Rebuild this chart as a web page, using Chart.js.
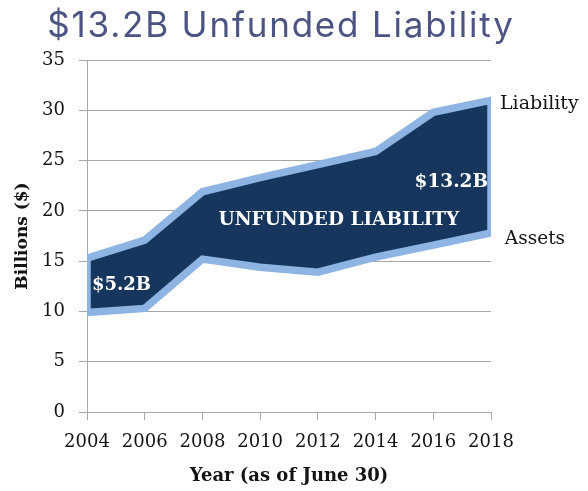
<!DOCTYPE html>
<html><head><meta charset="utf-8">
<script src="https://cdn.jsdelivr.net/npm/chart.js@4/dist/chart.umd.min.js"></script>
<style>html,body{margin:0;padding:0;background:#fff;}#wrap{width:588px;height:491px;}</style>
</head><body><div id="wrap"><canvas id="c" width="588" height="491"></canvas></div>
<script>
// ---- data ----
const years = [2004, 2006, 2008, 2010, 2012, 2014, 2016, 2018];
const liability = [15.3, 17.1, 21.9, 23.3, 24.6, 25.9, 29.8, 31.0];
const assets = [9.9, 10.3, 15.2, 14.4, 13.9, 15.4, 16.6, 17.8];
const yTickValues = [0, 5, 10, 15, 20, 25, 30, 35];
const chartTitle = '$13.2B Unfunded Liability';
const xTitle = 'Year (as of June 30)';
const yTitle = 'Billions ($)';
const seriesNames = ['Liability', 'Assets'];
const gapLabels = ['$5.2B', 'UNFUNDED LIABILITY', '$13.2B'];

// ---- styling / placement ----
const NAVY = '#17365d', LIGHT = '#8db4e2', GRID = '#a6a6a6', INK = '#141414';
const SERIF = '"DejaVu Serif", "Liberation Serif", serif';
const annotations = [
  {text: gapLabels[0], x: 2004.17, y: 12.6, align: 'left', font: 'bold 18px ' + SERIF, color: '#ffffff'},
  {text: gapLabels[1], x: 2012.73, y: 19.1, align: 'center', font: 'bold 18.5px ' + SERIF, color: '#ffffff'},
  {text: gapLabels[2], x: 2017.9, y: 22.9, align: 'right', font: 'bold 18.5px ' + SERIF, color: '#ffffff'},
  {text: seriesNames[0], x: 2018.31, y: 30.6, align: 'left', font: '19px ' + SERIF, color: INK},
  {text: seriesNames[1], x: 2018.48, y: 17.2, align: 'left', font: '18.5px ' + SERIF, color: INK}
];

const toXY = (xs, ys) => xs.map((v, i) => ({x: v, y: ys[i]}));
const liabPts = toXY(years, liability);
const assetPts = toXY(years, assets);
const outline = liabPts.concat(assetPts.slice().reverse(), [liabPts[0]]);

const textPlugin = {
  id: 'textPlugin',
  afterDatasetsDraw(chart) {
    const {ctx, scales: {x, y}} = chart;
    ctx.save();
    ctx.textBaseline = 'middle';
    for (const a of annotations) {
      ctx.font = a.font; ctx.fillStyle = a.color; ctx.textAlign = a.align;
      ctx.fillText(a.text, x.getPixelForValue(a.x), y.getPixelForValue(a.y));
    }
    ctx.font = '400 35px Inter, "Open Sans", sans-serif';
    ctx.fillStyle = '#4b5482';
    ctx.textAlign = 'center';
    ctx.textBaseline = 'alphabetic';
    if ('letterSpacing' in ctx) ctx.letterSpacing = '1.8px';
    ctx.fillText(chartTitle, 281, 37);
    ctx.restore();
  }
};

new Chart(document.getElementById('c'), {
  type: 'line',
  data: {
    datasets: [
      {label: 'outline', data: outline, borderColor: LIGHT, borderWidth: 7.5, fill: false,
       pointRadius: 0, tension: 0, borderJoinStyle: 'miter', order: 0},
      {label: seriesNames[0], data: liabPts, borderColor: 'rgba(0,0,0,0)', borderWidth: 0,
       backgroundColor: NAVY, fill: '+1', pointRadius: 0, tension: 0, order: 1},
      {label: seriesNames[1], data: assetPts, borderColor: 'rgba(0,0,0,0)', borderWidth: 0,
       fill: false, pointRadius: 0, tension: 0, order: 2}
    ]
  },
  options: {
    responsive: false,
    animation: false,
    devicePixelRatio: 1,
    layout: {padding: {top: 60, right: 97, bottom: 0, left: 0}},
    plugins: {legend: {display: false}, title: {display: false}, tooltip: {enabled: false}},
    scales: {
      x: {
        type: 'linear', min: years[0], max: years[years.length - 1],
        afterFit(s) { s.height = 79; },
        afterBuildTicks(s) { s.ticks = years.map(v => ({value: v})); },
        ticks: {callback: v => String(v), color: INK, font: {family: SERIF, size: 18}, padding: 12, maxRotation: 0, autoSkip: false},
        grid: {drawOnChartArea: false, drawTicks: true, tickLength: 8, color: GRID},
        border: {display: true, color: GRID},
        title: {display: true, text: xTitle, color: INK, font: {family: SERIF, size: 18, weight: 'bold'}, padding: {top: 0, bottom: 4}}
      },
      y: {
        min: 0, max: 35,
        afterFit(s) { s.width = 87; },
        afterBuildTicks(s) { s.ticks = yTickValues.map(v => ({value: v})); },
        ticks: {color: INK, font: {family: SERIF, size: 18}, padding: 14},
        grid: {drawOnChartArea: true, drawTicks: true, tickLength: 8, color: GRID},
        border: {display: true, color: GRID},
        title: {display: true, text: yTitle, color: INK, font: {family: SERIF, size: 17, weight: 'bold'}, padding: {top: 12, bottom: 0}}
      }
    }
  },
  plugins: [textPlugin]
});
</script></body></html>
